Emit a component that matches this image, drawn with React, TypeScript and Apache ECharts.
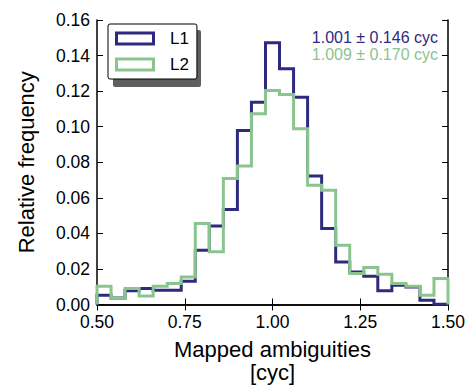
import React, { useEffect, useRef } from "react";
import * as echarts from "echarts";

const binEdges = [0.5, 0.54, 0.58, 0.62, 0.66, 0.7, 0.74, 0.78, 0.82, 0.86, 0.9, 0.94, 0.98, 1.02, 1.06, 1.1, 1.14, 1.18, 1.22, 1.26, 1.3, 1.34, 1.38, 1.42, 1.46, 1.5];
const l1Freq = [0.0052, 0.0037, 0.0077, 0.009, 0.008, 0.008, 0.0131, 0.0305, 0.0442, 0.0534, 0.0979, 0.1138, 0.1472, 0.1326, 0.1166, 0.0722, 0.0427, 0.0239, 0.0183, 0.0159, 0.0077, 0.0108, 0.0099, 0.0024, 0.0002];
const l2Freq = [0.0103, 0.0037, 0.009, 0.0048, 0.0103, 0.0118, 0.0155, 0.0455, 0.0296, 0.0708, 0.0779, 0.1073, 0.1204, 0.1181, 0.0989, 0.067, 0.0642, 0.0333, 0.0174, 0.0208, 0.017, 0.0118, 0.0103, 0.0052, 0.0146];
const seriesNames = ["L1", "L2"];
const statLabels = ["1.001 ± 0.146 cyc", "1.009 ± 0.170 cyc"];
const xTicks = [0.5, 0.75, 1.0, 1.25, 1.5];

const BLUE = "#2d2a7f";
const GREEN = "#8cc490";
const FONT = "Liberation Sans";

function outline(edges: number[], freq: number[]) {
  const pts: number[][] = [[edges[0], 0]];
  for (let i = 0; i < freq.length; i++) {
    pts.push([edges[i], freq[i]]);
    pts.push([edges[i + 1], freq[i]]);
  }
  pts.push([edges[edges.length - 1], 0]);
  return pts;
}

const rectIcon = "path://M0,0H40V14H0Z M3,3V11H37V3Z";

export default function App() {
  const ref = useRef<HTMLDivElement>(null);
  useEffect(() => {
    if (!ref.current) return;
    const chart = echarts.init(ref.current, null, { renderer: "svg" });
    const axisLine = { show: true, lineStyle: { color: "#000", width: 1.5 } };
    const tick = { show: true, inside: true, length: 6, lineStyle: { color: "#000", width: 1 } };
    chart.setOption({
      animation: false,
      backgroundColor: "#fff",
      grid: { left: 97, right: 21, top: 20, bottom: 84.5, containLabel: false },
      textStyle: { fontFamily: FONT },
      xAxis: [
        {
          type: "value",
          min: 0.5,
          max: 1.5,
          interval: 0.25,
          position: "bottom",
          axisLine,
          axisTick: tick,
          splitLine: { show: false },
          axisLabel: {
            color: "#000",
            fontSize: 17.5,
            fontFamily: FONT,
            margin: 8,
            formatter: (v: number) => v.toFixed(2),
            customValues: xTicks,
          },
          name: "Mapped ambiguities\n[cyc]",
          nameLocation: "middle",
          nameGap: 33,
          nameTextStyle: { color: "#000", fontSize: 22, fontFamily: FONT, lineHeight: 23 },
        },
        {
          type: "value",
          min: 0.5,
          max: 1.5,
          interval: 0.25,
          position: "top",
          axisLine,
          axisTick: tick,
          splitLine: { show: false },
          axisLabel: { show: false },
        },
      ],
      yAxis: [
        {
          type: "value",
          min: 0,
          max: 0.16,
          interval: 0.02,
          position: "left",
          axisLine,
          axisTick: tick,
          splitLine: { show: false },
          axisLabel: {
            color: "#000",
            fontSize: 17.5,
            fontFamily: FONT,
            margin: 7,
            formatter: (v: number) => v.toFixed(2),
          },
          name: "Relative frequency",
          nameLocation: "middle",
          nameGap: 60,
          nameTextStyle: { color: "#000", fontSize: 22, fontFamily: FONT },
        },
        {
          type: "value",
          min: 0,
          max: 0.16,
          interval: 0.02,
          position: "right",
          axisLine,
          axisTick: tick,
          splitLine: { show: false },
          axisLabel: { show: false },
        },
      ],
      legend: {
        orient: "vertical",
        left: 108,
        top: 24,
        padding: [6, 8, 6, 7],
        itemWidth: 40,
        itemHeight: 14,
        itemGap: 9,
        backgroundColor: "#fff",
        borderColor: "#000",
        borderWidth: 1,
        borderRadius: 2,
        z: 10,
        data: [
          { name: seriesNames[0], icon: rectIcon, itemStyle: { color: BLUE } },
          { name: seriesNames[1], icon: rectIcon, itemStyle: { color: GREEN } },
        ],
        textStyle: { color: "#000", fontSize: 17, fontFamily: FONT, padding: [0, 0, 0, 10] },
      },
      graphic: [
        { type: "rect", z: 1, shape: { x: 113, y: 30, width: 88, height: 57, r: 2 }, style: { fill: "#5f5f5f" } },
        {
          type: "text",
          z: 20,
          style: { text: statLabels[0], x: 438, y: 37, align: "right", verticalAlign: "middle", fill: BLUE, font: `16px "${FONT}"` },
        },
        {
          type: "text",
          z: 20,
          style: { text: statLabels[1], x: 438, y: 54, align: "right", verticalAlign: "middle", fill: GREEN, font: `16px "${FONT}"` },
        },
      ],
      series: [
        {
          name: seriesNames[0],
          type: "line",
          data: outline(binEdges, l1Freq),
          showSymbol: false,
          symbol: "none",
          color: BLUE,
          lineStyle: { color: BLUE, width: 3, join: "miter" },
          itemStyle: { color: BLUE },
          z: 3,
        },
        {
          name: seriesNames[1],
          type: "line",
          data: outline(binEdges, l2Freq),
          showSymbol: false,
          symbol: "none",
          color: GREEN,
          lineStyle: { color: GREEN, width: 3, join: "miter" },
          itemStyle: { color: GREEN },
          z: 4,
        },
      ],
    });
    return () => chart.dispose();
  }, []);
  return <div ref={ref} style={{ position: "fixed", left: 0, top: 0, width: 469, height: 389 }} />;
}
